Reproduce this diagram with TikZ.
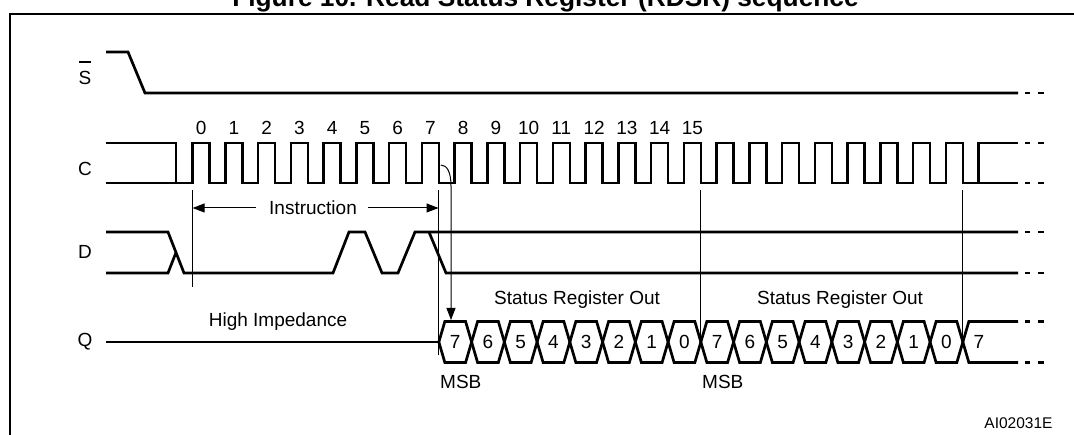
\documentclass[tikz,border=0pt]{standalone}
\usepackage{fontspec}
\setmainfont{Liberation Sans}
\usetikzlibrary{arrows.meta}
\begin{document}
\begin{tikzpicture}[x=1pt,y=-1pt,
  sig/.style={line width=2.7pt},
  thinl/.style={line width=1pt},
  framel/.style={line width=2.3pt},
  lbl/.style={font=\fontsize{19}{22}\selectfont, inner sep=0pt},
  small/.style={font=\fontsize{15.5}{18}\selectfont, inner sep=0pt},
  tip/.style={-{Triangle[length=12pt,width=9pt]}}]
\clip (0,0) rectangle (1074,435);
\useasboundingbox (0,0) rectangle (1074,435);
% title and frame
\node[font=\bfseries\fontsize{26.3}{30}\selectfont, anchor=base, inner sep=0pt] (title) at (545.5,6.5) {Figure 10. Read Status Register (RDSR) sequence};
\draw[framel] (10.3,445) -- (10.3,13.8) -- (1085,13.8);
% signal names
\node[lbl] (sS) at (85,78) {S};
\draw[line width=1.5pt] (79,62) -- (91,62);
\node[lbl] (sC) at (85,169) {C};
\node[lbl] (sD) at (85,252) {D};
\node[lbl] (sQ) at (85,342) {Q};
% S
\draw[sig] (106,52) -- (128,52) -- (145,93) -- (1018,93);
% C
\draw[sig] (106,143) -- (176,143) -- (176,183) -- (192.6,183)
  \foreach \n in {0,...,23} { -- ({192.6+32.75*\n},183) -- ({192.6+32.75*\n},143) -- ({209.6+32.75*\n},143) -- ({209.6+32.75*\n},183) }
  -- (978.6,183) -- (978.6,143) -- (1018,143);
\draw[sig] (106,183) -- (176,183);
\draw[sig] (962.85,183) -- (1018,183);
\foreach \n in {0,...,15} \node[lbl] (cn\n) at ({201.1+32.75*\n},128) {\n};
% D
\draw[sig] (106,232) -- (168,232) -- (184,273) -- (333,273) -- (349,232) -- (365,232) -- (382,273) -- (398,273) -- (415,232) -- (1018,232);
\draw[sig] (106,273) -- (168,273) -- (176,252.5);
\draw[sig] (429,232) -- (446,273) -- (1018,273);
% end dashes
\foreach \y in {93,143,183,232,273,321.5,362.5}
  \draw[sig] (1025,\y) -- (1030,\y) (1038,\y) -- (1044,\y);
% Q
\draw[sig] (106,342) -- (438.85,342);
\draw[sig] (438.85,342) -- (444.85,321.5)
  \foreach \k [evaluate=\k as \ya using 342-20.5*cos(180*\k), evaluate=\k as \yb using 342+20.5*cos(180*\k)] in {8,...,23}
  { -- ({209.6+32.75*\k-6},\ya) -- ({209.6+32.75*\k+6},\yb) } -- (1018,321.5);
\draw[sig] (438.85,342) -- (444.85,362.5)
  \foreach \k [evaluate=\k as \ya using 342-20.5*cos(180*\k), evaluate=\k as \yb using 342+20.5*cos(180*\k)] in {8,...,23}
  { -- ({209.6+32.75*\k-6},\yb) -- ({209.6+32.75*\k+6},\ya) } -- (1018,362.5);
\foreach \j [evaluate=\j as \d using {int(7-mod(\j,8))}] in {0,...,15}
  \node[lbl] (qd\j) at ({209.6+32.75*(7.5+\j)},342) {\d};
\node[lbl] (qlast) at (979,342) {7};
% vertical markers
\draw[thinl] (192.6,190) -- (192.6,287);
\draw[thinl] (438.5,190) -- (438.5,355);
\draw[thinl] (700.85,190) -- (700.85,342);
\draw[thinl] (962.85,190) -- (962.85,342);
% instruction
\node[lbl] (instr) at (313,208) {Instruction};
\coordinate (ileft) at (192.6,208);
\coordinate (iright) at (438.5,208);
\draw[thinl,tip] ([xshift=-13pt]instr.west) -- (ileft);
\draw[thinl,tip] ([xshift=11pt]instr.east) -- (iright);
% curved arrow
\coordinate (fe7) at (440.8,165);
\coordinate (q7) at (451,320);
\draw[thinl,tip] (fe7) .. controls (447,165) and (451,172) .. (451,186) -- (q7);
% texts
\node[lbl] (hiz) at (278,322) {High Impedance};
\node[lbl] (sro1) at (577,300) {Status Register Out};
\node[lbl] (sro2) at (840,300) {Status Register Out};
\node[lbl,anchor=west] (msb1) at (440,382) {MSB};
\node[lbl,anchor=west] (msb2) at (702,382) {MSB};
\node[small] (code) at (1018.5,423) {AI02031E};
\end{tikzpicture}
\end{document}
